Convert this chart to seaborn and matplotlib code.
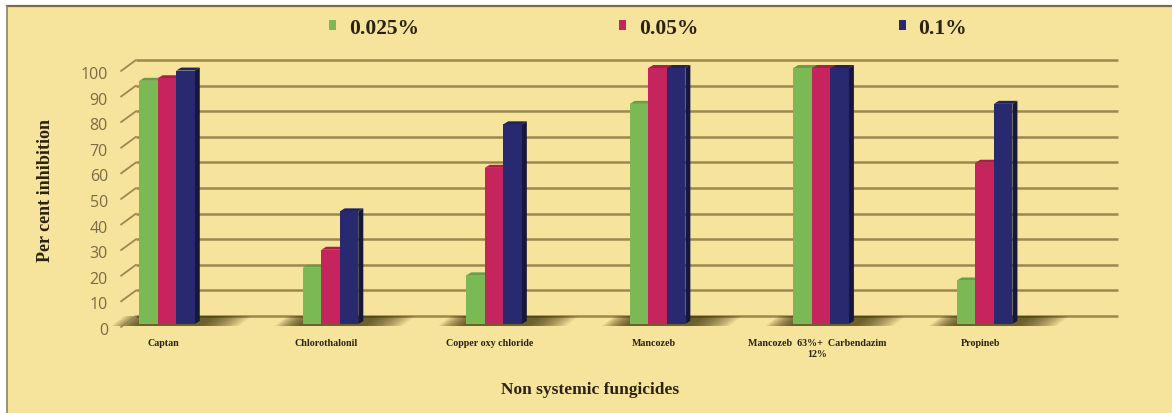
import numpy as np
import pandas as pd
import seaborn as sns
import matplotlib
matplotlib.use("Agg")
import matplotlib.pyplot as plt
import matplotlib.transforms as mtransforms
from matplotlib.patches import Polygon, Rectangle
from matplotlib.lines import Line2D
from matplotlib.colors import to_rgb

# ---- data -------------------------------------------------------------
fungicides = ["Captan", "Chlorothalonil", "Copper oxy chloride", "Mancozeb",
              "Mancozeb  63%+  Carbendazim\n12%", "Propineb"]
concentrations = ["0.025%", "0.05%", "0.1%"]
inhibition_0025 = [95, 22, 19, 86, 100, 17]
inhibition_005 = [96, 29, 61, 100, 100, 63]
inhibition_01 = [99, 44, 78, 100, 100, 86]
y_ticks = list(range(0, 101, 10))

# ---- style ------------------------------------------------------------
BG = "#f6e49c"
GRID = "#9a8850"
TEXT = "#2b2210"
palette = {"0.025%": "#7bb955", "0.05%": "#c6245c", "0.1%": "#28296e"}
SERIF = ["Liberation Serif", "DejaVu Serif"]

W_PX, H_PX, DPI = 1172, 414, 100
fig = plt.figure(figsize=(W_PX / DPI, H_PX / DPI), dpi=DPI, facecolor="white")

# yellow panel with a dark top/left frame
fig.add_artist(Rectangle((7 / W_PX, 0), 1 - 7 / W_PX, 1 - 7 / H_PX,
                         transform=fig.transFigure, facecolor=BG,
                         edgecolor="none", zorder=-10))
fig.add_artist(Line2D([7 / W_PX, 1], [1 - 7 / H_PX] * 2, transform=fig.transFigure,
                      color="#7a6c48", lw=1.6))
fig.add_artist(Line2D([7 / W_PX] * 2, [0, 1 - 7 / H_PX], transform=fig.transFigure,
                      color="#8c8266", lw=1.2))

ax = fig.add_axes([122 / W_PX, 89 / H_PX, (1104 - 122) / W_PX, (325 - 69) / H_PX])
ax.set_facecolor("none")
for s in ax.spines.values():
    s.set_visible(False)

df = pd.DataFrame({
    "Fungicide": fungicides * 3,
    "Concentration": np.repeat(concentrations, len(fungicides)),
    "Inhibition": inhibition_0025 + inhibition_005 + inhibition_01,
})

sns.barplot(data=df, x="Fungicide", y="Inhibition", hue="Concentration",
            order=fungicides, hue_order=concentrations, palette=palette,
            width=0.34, saturation=1, linewidth=0, errorbar=None,
            ax=ax, zorder=3)
bars = list(ax.patches)
handles, labels = ax.get_legend_handles_labels()
ax.get_legend().remove()

ax.set_xlim(-0.275, 5.73)
ax.set_ylim(0, 100)
ax.set_xlabel("")
ax.set_ylabel("")

# back-wall gridlines, shifted for a perspective look
back = ax.get_yaxis_transform() + mtransforms.ScaledTranslation(0.14, 0.08, fig.dpi_scale_trans)
for v in y_ticks:
    ax.plot([0, 1], [v, v], transform=back, color=GRID, lw=1.8,
            clip_on=False, zorder=1, solid_capstyle="butt")
    ax.annotate("", xy=(0, v), xycoords=back, xytext=(-15, -11),
                textcoords="offset pixels",
                arrowprops=dict(arrowstyle="-", color=GRID, lw=1.3,
                                shrinkA=0, shrinkB=0))

# y tick labels sitting at the front edge
lab_tr = ax.get_yaxis_transform() + mtransforms.ScaledTranslation(-0.14, -0.06, fig.dpi_scale_trans)
ax.set_yticks([])
for v in y_ticks:
    ax.text(0, v, str(v), transform=lab_tr, ha="right", va="center",
            fontsize=11.5, family=["Open Sans", "DejaVu Sans"], color="#7a6c42")

# category names, nudged a little left of the group centres
cat_tr = ax.get_xaxis_transform() + mtransforms.ScaledTranslation(-0.04, -0.14, fig.dpi_scale_trans)
ax.set_xticks([])
for i, name in enumerate(fungicides):
    ax.text(i, 0, name, transform=cat_tr, ha="center", va="top",
            fontsize=7.2, family=SERIF, color=TEXT, fontweight="bold",
            linespacing=1.3)
ax.tick_params(length=0)

# 3-D side and top faces plus floor shadows, derived from the bar patches
ident = mtransforms.IdentityTransform()
dx, dy = 5, 3
tr = ax.transData


def shade(c, f):
    r, g, b = to_rgb(c)
    return (r * f, g * f, b * f)


for bar in bars:
    h = bar.get_height()
    if not np.isfinite(h) or h <= 0:
        continue
    x0 = bar.get_x()
    x1 = x0 + bar.get_width()
    X0, Y0 = tr.transform((x0, 0))
    X1, Y1 = tr.transform((x1, h))
    col = bar.get_facecolor()
    side = Polygon([[X1, Y0], [X1 + dx, Y0 + dy], [X1 + dx, Y1 + dy], [X1, Y1]],
                   closed=True, transform=ident, facecolor=shade(col, 0.55),
                   edgecolor="none", zorder=2.6, clip_on=False)
    top = Polygon([[X0, Y1], [X0 + dx, Y1 + dy], [X1 + dx, Y1 + dy], [X1, Y1]],
                  closed=True, transform=ident, facecolor=shade(col, 0.85),
                  edgecolor="none", zorder=2.5, clip_on=False)
    ax.add_patch(side)
    ax.add_patch(top)

n_groups = len(fungicides)
for i in range(n_groups):
    grp = [b for b in bars if abs(b.get_x() + b.get_width() / 2 - i) < 0.3]
    if not grp:
        continue
    xl = min(b.get_x() for b in grp)
    xr = max(b.get_x() + b.get_width() for b in grp)
    XL, YF = tr.transform((xl, 0))
    XR, _ = tr.transform((xr, 0))
    layers = 16
    for k in range(layers):
        f = 1 - k / layers
        el, er = 26 * f + 2, 40 * f + 4
        poly = Polygon([[XL - el, YF - 2], [XR + er, YF - 2],
                        [XR + er + 13, YF + 8], [XL - el + 13, YF + 8]],
                       closed=True, transform=ident, facecolor="#3b3006",
                       edgecolor="none", alpha=0.075, zorder=1.5, clip_on=False)
        ax.add_patch(poly)

# legend across the top
fig.legend(handles, labels, loc="center", bbox_to_anchor=(648 / W_PX, 1 - 29 / H_PX),
           ncol=3, frameon=False,
           prop={"family": SERIF, "weight": "bold", "size": 15.5},
           handlelength=0.33, handleheight=0.33, handletextpad=0.6,
           columnspacing=9.3, labelcolor=TEXT)

fig.text(45 / W_PX, 1 - 191 / H_PX, "Per cent inhibition", rotation=90,
         ha="center", va="center", family=SERIF, fontweight="bold",
         fontsize=13, color=TEXT)
fig.text(590 / W_PX, 1 - 390 / H_PX, "Non systemic fungicides", ha="center",
         va="center", family=SERIF, fontweight="bold", fontsize=12.5, color=TEXT)

fig.savefig("out.png", dpi=DPI, facecolor=fig.get_facecolor())
